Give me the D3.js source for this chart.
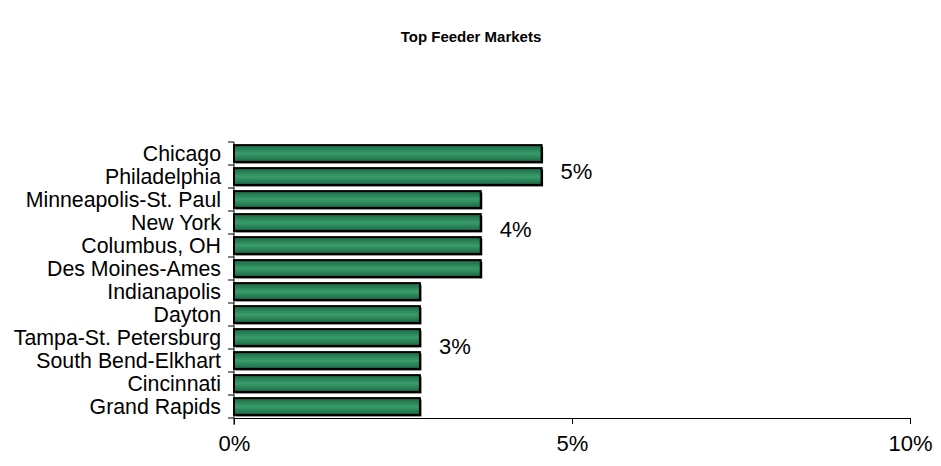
<!DOCTYPE html>
<html>
<head>
<meta charset="utf-8">
<script src="https://cdn.jsdelivr.net/npm/d3@7"></script>
<style>
  html, body { margin: 0; padding: 0; background: #fff; }
  svg { display: block; font-family: "Liberation Sans", Arial, sans-serif; }
</style>
</head>
<body>
<svg id="chart" width="941" height="466"></svg>
<script>
// Share of visitors by origin market (fraction of total)
const markets = [
  "Chicago", "Philadelphia", "Minneapolis-St. Paul", "New York",
  "Columbus, OH", "Des Moines-Ames", "Indianapolis", "Dayton",
  "Tampa-St. Petersburg", "South Bend-Elkhart", "Cincinnati", "Grand Rapids"
];
const shares = [0.0455, 0.0455, 0.0365, 0.0365, 0.0365, 0.0365, 0.0275, 0.0275, 0.0275, 0.0275, 0.0275, 0.0275];
const xTicks = [0, 0.05, 0.10];
const chartTitle = "Top Feeder Markets";

const svg = d3.select("#chart");
const W = 941, H = 466;
const m = { left: 234, right: 31, top: 142, bottom: 48 };

const x = d3.scaleLinear().domain([0, 0.10]).range([m.left, W - m.right]);
const y = d3.scaleBand().domain(markets).range([m.top, H - m.bottom]).paddingInner(0.27).paddingOuter(0.135);
const fmt = d3.format(".0%");

// Title
svg.append("text")
  .attr("x", 471).attr("y", 42)
  .attr("text-anchor", "middle")
  .attr("font-weight", "bold").attr("font-size", 15)
  .text(chartTitle);

// Bar fill: darker edges, lighter centre stripe
const defs = svg.append("defs");
const grad = defs.append("linearGradient").attr("id", "barFill")
  .attr("x1", 0).attr("y1", 0).attr("x2", 0).attr("y2", 1);
grad.append("stop").attr("offset", "0%").attr("stop-color", "#1b6843");
grad.append("stop").attr("offset", "50%").attr("stop-color", "#389c6a");
grad.append("stop").attr("offset", "100%").attr("stop-color", "#1b6843");

const data = markets.map((name, i) => ({ name, v: shares[i] }));

// Bar shadows
svg.append("g").selectAll("rect").data(data).join("rect")
  .attr("x", x(0) + 1.5)
  .attr("y", d => y(d.name) + 1.5)
  .attr("width", d => x(d.v) - x(0))
  .attr("height", y.bandwidth())
  .attr("fill", "#000");

// Bars
svg.append("g").selectAll("rect").data(data).join("rect")
  .attr("x", x(0))
  .attr("y", d => y(d.name))
  .attr("width", d => x(d.v) - x(0))
  .attr("height", y.bandwidth())
  .attr("fill", "url(#barFill)")
  .attr("stroke", "#000").attr("stroke-width", 2);

// Category axis with ticks at band boundaries
const yAxisG = svg.append("g");
yAxisG.append("line")
  .attr("x1", x(0)).attr("x2", x(0))
  .attr("y1", m.top).attr("y2", H - m.bottom + 7)
  .attr("stroke", "#000").attr("stroke-width", 1);
const bounds = d3.range(markets.length + 1).map(i => m.top + i * (H - m.top - m.bottom) / markets.length);
yAxisG.selectAll(".tk").data(bounds).join("line")
  .attr("x1", x(0) - 6).attr("x2", x(0))
  .attr("y1", d => d).attr("y2", d => d)
  .attr("stroke", "#000").attr("stroke-width", 1);
yAxisG.selectAll("text").data(markets).join("text")
  .attr("x", x(0) - 13)
  .attr("y", d => y(d) + y.bandwidth() / 2)
  .attr("dy", "0.36em")
  .attr("text-anchor", "end")
  .attr("font-size", 21.3)
  .text(d => d);

// Value axis
const xAxis = d3.axisBottom(x).tickValues(xTicks).tickFormat(fmt).tickSize(6).tickPadding(11);
const xg = svg.append("g").attr("transform", `translate(0,${H - m.bottom})`).call(xAxis);
xg.select(".domain").attr("d", `M${x(0)},0.5H${x(0.10)}`).attr("stroke", "#000");
xg.selectAll(".tick line").attr("stroke", "#000");
xg.selectAll(".tick text").attr("font-size", 22).attr("fill", "#000")
  .attr("font-family", "Liberation Sans, Arial, sans-serif");

// Value labels, one per group of equal rounded share
const groups = d3.groups(data, d => fmt(d.v));
const labelNudge = [6, -5, -3];
svg.append("g").selectAll("text").data(groups).join("text")
  .attr("x", ([, items]) => x(d3.max(items, d => d.v)) + 19)
  .attr("y", ([, items], i) => d3.mean(items, d => y(d.name) + y.bandwidth() / 2) + labelNudge[i])
  .attr("dy", "0.36em")
  .attr("font-size", 22)
  .text(([label]) => label);
</script>
</body>
</html>
